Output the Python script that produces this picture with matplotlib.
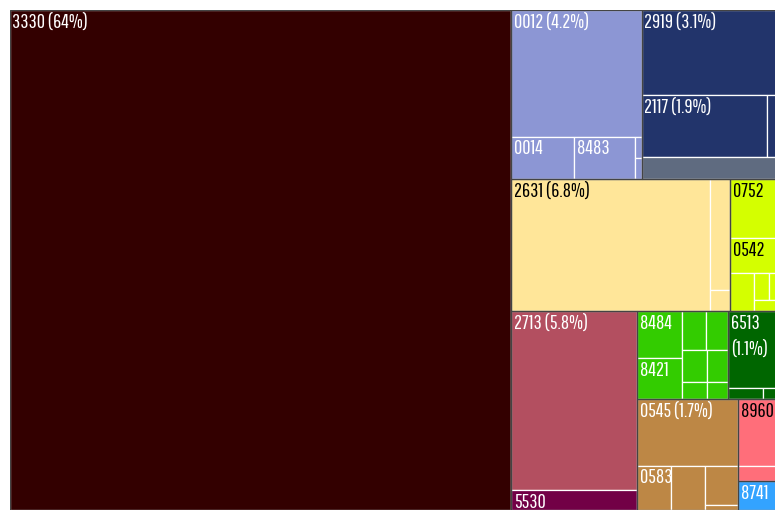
import matplotlib
matplotlib.use('Agg')
import matplotlib.pyplot as plt
from matplotlib.patches import Rectangle

# Dati: un elemento per riga del treemap (codice, quota %, gruppo, sottogruppo, colore)
codes = ['3330',
         '0012', '0014', '8483', '', '',
         '2919', '2117', '', '',
         '2631', '', '',
         '0752', '0542', '', '', '', '',
         '2713', '5530',
         '8484', '8421', '', '', '', '', '', '',
         '6513', '', '',
         '0545', '0583', '', '', '',
         '8960', '',
         '8741']
share = [65.0,
         4.28, 0.69, 0.67, 0.033, 0.033,
         3.09, 2.00, 0.22, 0.80,
         6.80, 0.58, 0.11,
         0.78, 0.46, 0.24, 0.105, 0.084, 0.077,
         5.86, 0.66,
         0.55, 0.48, 0.243, 0.223, 0.208, 0.175, 0.11, 0.093,
         1.06, 0.10, 0.051,
         1.73, 0.39, 0.39, 0.335, 0.043,
         0.74, 0.17,
         0.32]
pct_text = ['64%',
            '4.2%', '', '', '', '',
            '3.1%', '1.9%', '', '',
            '6.8%', '', '',
            '', '', '', '', '', '',
            '5.8%', '',
            '', '', '', '', '', '', '', '',
            '1.1%', '', '',
            '1.7%', '', '', '', '',
            '', '',
            '']
group = [0, 1, 1, 1, 1, 1, 2, 2, 2, 2, 3, 3, 3, 4, 4, 4, 4, 4, 4, 5, 5,
         6, 6, 6, 6, 6, 6, 6, 6, 7, 7, 7, 8, 8, 8, 8, 8, 9, 9, 10]
subgroup = [0, 0, 0, 0, 0, 0, 0, 0, 0, 1, 0, 0, 0, 0, 0, 0, 0, 0, 0, 0, 0,
            0, 0, 0, 0, 0, 0, 0, 0, 0, 0, 0, 0, 0, 0, 0, 0, 0, 0, 0]
colors = (['#330000'] + ['#8c96d4'] * 5 + ['#22346b'] * 3 + ['#5f6b80']
          + ['#ffe699'] * 3 + ['#d4ff00'] * 6 + ['#b34f60', '#720046']
          + ['#33cc00'] * 8 + ['#006600'] * 3 + ['#bd8745'] * 5
          + ['#ff6e7a'] * 2 + ['#33a3ff'])
dark_text = ['#ffe699', '#d4ff00', '#ff6e7a']

RATIO = 1.2
W, H = 771.0, 500.0


def squarify(values, x0, y0, x1, y1):
    # squarify come in d3 (righe/colonne in ordine, senza riordinare)
    rects = []
    total = float(sum(values))
    n = len(values)
    i0 = 0
    while i0 < n:
        dx, dy = x1 - x0, y1 - y0
        i1 = i0 + 1
        s = vmin = vmax = values[i0]
        alpha = max(dy / dx, dx / dy) / (total * RATIO)
        beta = s * s * alpha
        best = max(vmax / beta, beta / vmin)
        while i1 < n:
            v = values[i1]
            mn, mx = min(vmin, v), max(vmax, v)
            beta = (s + v) ** 2 * alpha
            r = max(mx / beta, beta / mn)
            if r > best:
                break
            s, vmin, vmax, best = s + v, mn, mx, r
            i1 += 1
        row = values[i0:i1]
        if dx < dy:
            h = dy * s / total if i1 < n else dy
            xx = x0
            for v in row:
                rects.append((xx, y0, dx * v / s, h))
                xx += dx * v / s
            y0 += h
        else:
            w = dx * s / total if i1 < n else dx
            yy = y0
            for v in row:
                rects.append((x0, yy, w, dy * v / s))
                yy += dy * v / s
            x0 += w
        total -= s
        i0 = i1
    return rects


# gerarchia gruppo -> sottogruppo -> elementi
tree = {}
for i, (g, sg) in enumerate(zip(group, subgroup)):
    tree.setdefault(g, {}).setdefault(sg, []).append(i)

item_rect = {}
group_rect = []
gkeys = list(tree)
gvals = [sum(share[i] for sg in tree[g].values() for i in sg) for g in gkeys]
for g, (gx, gy, gw, gh) in zip(gkeys, squarify(gvals, 0, 0, W, H)):
    group_rect.append((gx, gy, gw, gh))
    skeys = list(tree[g])
    svals = [sum(share[i] for i in tree[g][k]) for k in skeys]
    for k, (sx, sy, sw, sh) in zip(skeys, squarify(svals, gx, gy, gx + gw, gy + gh)):
        idx = tree[g][k]
        for i, r in zip(idx, squarify([share[i] for i in idx], sx, sy, sx + sw, sy + sh)):
            item_rect[i] = r

fig = plt.figure(figsize=(7.75, 5.13), dpi=100)
ax = fig.add_axes([10 / 775, 3 / 513, W / 775, H / 513])
ax.set_xlim(0, W)
ax.set_ylim(H, 0)
ax.axis('off')

for i in range(len(codes)):
    x, y, w, h = item_rect[i]
    ax.add_patch(Rectangle((x, y), w, h, facecolor=colors[i], edgecolor='white', lw=0.9))
for x, y, w, h in group_rect:
    ax.add_patch(Rectangle((x, y), w, h, facecolor='none', edgecolor='#444444', lw=0.9))

fam = ['Pathway Gothic One', 'DejaVu Sans']
fig.canvas.draw()
renderer = fig.canvas.get_renderer()
for i, code in enumerate(codes):
    if not code:
        continue
    x, y, w, h = item_rect[i]
    label = code + (' (' + pct_text[i] + ')' if pct_text[i] else '')
    tc = 'black' if colors[i] in dark_text else 'white'
    t = ax.annotate(label, (x, y), xytext=(1.8, -2.0), textcoords='offset points',
                    ha='left', va='top', fontsize=14.5, color=tc, family=fam,
                    linespacing=1.45)
    bb = t.get_window_extent(renderer)
    if bb.width > w - 2 and pct_text[i]:
        t.set_text(label.replace(' ', '\n'))

fig.savefig('out.png', dpi=100)
